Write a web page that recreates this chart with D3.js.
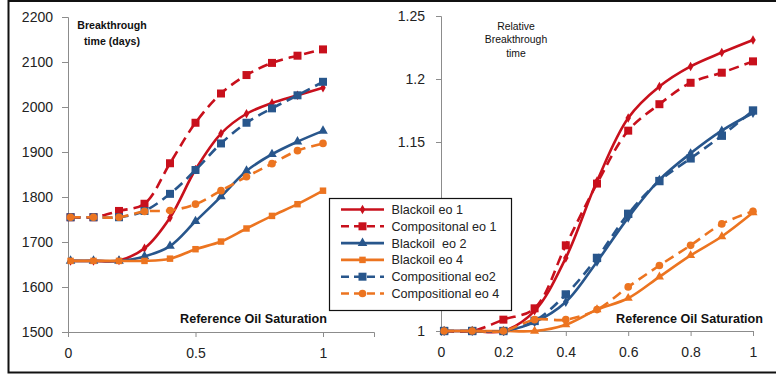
<!DOCTYPE html>
<html>
<head>
<meta charset="utf-8">
<script src="https://cdn.jsdelivr.net/npm/d3@7"></script>
<style>
  html, body { margin: 0; padding: 0; background: #fff; }
  svg { display: block; font-family: "Liberation Sans", Arial, sans-serif; }
  text { white-space: pre; }
</style>
</head>
<body>
<svg id="chart" width="776" height="376"></svg>
<script>
// Reference oil saturation (x values shared by every series)
const saturation = [0.01, 0.1, 0.2, 0.3, 0.4, 0.5, 0.6, 0.7, 0.8, 0.9, 1.0];

// Breakthrough time (days)
const daysBlackoilEo1      = [1658, 1658, 1659, 1686, 1754, 1861, 1941, 1985, 2009, 2026, 2043];
const daysCompositionalEo1 = [1755, 1755, 1769, 1785, 1875, 1965, 2030, 2071, 2098, 2114, 2128];
const daysBlackoilEo2      = [1658, 1658, 1658, 1668, 1691, 1746, 1801, 1858, 1895, 1923, 1947];
const daysBlackoilEo4      = [1658, 1658, 1658, 1658, 1663, 1684, 1701, 1730, 1758, 1784, 1814];
const daysCompositionalEo2 = [1755, 1755, 1755, 1769, 1807, 1860, 1919, 1965, 1997, 2026, 2056];
const daysCompositionalEo4 = [1755, 1755, 1755, 1768, 1770, 1784, 1814, 1845, 1874, 1903, 1919];

// Relative breakthrough time
const relBlackoilEo1      = [1, 1, 1, 1.016, 1.058, 1.119, 1.169, 1.194, 1.210, 1.221, 1.231];
const relCompositionalEo1 = [1, 1, 1.009, 1.018, 1.068, 1.117, 1.159, 1.180, 1.197, 1.205, 1.214];
const relBlackoilEo2      = [1, 1, 1, 1.007, 1.023, 1.055, 1.090, 1.120, 1.141, 1.159, 1.173];
const relBlackoilEo4      = [1, 1, 1, 1, 1.005, 1.017, 1.026, 1.043, 1.060, 1.075, 1.094];
const relCompositionalEo2 = [1, 1, 1, 1.008, 1.029, 1.058, 1.093, 1.119, 1.137, 1.155, 1.175];
const relCompositionalEo4 = [1, 1, 1, 1.009, 1.009, 1.017, 1.035, 1.052, 1.068, 1.085, 1.095];

// Legend names, in series order
const seriesNames = ["Blackoil eo 1", "Compositonal eo 1", "Blackoil  eo 2",
                     "Blackoil eo 4", "Compositional eo2", "Compositional eo 4"];

// Axis ticks
const daysTicks = [1500, 1600, 1700, 1800, 1900, 2000, 2100, 2200];
const leftXTicks = [0, 0.5, 1];
const relTicks = [1, 1.05, 1.1, 1.15, 1.2, 1.25];
const rightXTicks = [0, 0.2, 0.4, 0.6, 0.8, 1];

// Styling per series
const RED = "#c8101c", BLUE = "#28568c", ORANGE = "#ec7420";
const styles = [
  { color: RED,    dash: null,   leftSym: d3.symbolDiamond,  leftSize: 26, rightSym: d3.symbolDiamond,  rightSize: 26 },
  { color: RED,    dash: "10,6", leftSym: d3.symbolSquare,   leftSize: 64, rightSym: d3.symbolSquare,   rightSize: 64 },
  { color: BLUE,   dash: null,   leftSym: d3.symbolTriangle, leftSize: 40, rightSym: d3.symbolDiamond,  rightSize: 30 },
  { color: ORANGE, dash: null,   leftSym: d3.symbolSquare,   leftSize: 42, rightSym: d3.symbolTriangle, rightSize: 36 },
  { color: BLUE,   dash: "10,6", leftSym: d3.symbolSquare,   leftSize: 64, rightSym: d3.symbolSquare,   rightSize: 70 },
  { color: ORANGE, dash: "10,6", leftSym: d3.symbolCircle,   leftSize: 46, rightSym: d3.symbolCircle,   rightSize: 46 }
];

// Legend box geometry (it sits across both panels)
const legendBox = { x: 329.5, y: 198.5, w: 182, h: 112 };

const svg = d3.select("#chart");

function drawPanel(opts) {
  const g = svg.append("g");
  const x = d3.scaleLinear().domain(opts.xDomain).range(opts.xRange);
  const y = d3.scaleLinear().domain(opts.yDomain).range(opts.yRange);

  // y axis
  const yAxis = g.append("g")
    .attr("transform", `translate(${opts.xRange[0]},0)`)
    .call(d3.axisLeft(y).tickValues(opts.yTicks).tickSizeOuter(0)
      .tickSize(opts.yTickSize).tickPadding(opts.yPad).tickFormat(opts.yFormat));
  // x axis
  const xAxis = g.append("g")
    .attr("transform", `translate(0,${opts.yRange[0]})`)
    .call(d3.axisBottom(x).tickValues(opts.xTicks).tickSizeOuter(0)
      .tickSize(5).tickPadding(11).tickFormat(d3.format("~g")));
  [yAxis, xAxis].forEach(a => {
    a.select(".domain").attr("stroke", "#8c8c8c").attr("stroke-width", 1);
    a.selectAll(".tick line").attr("stroke", "#8c8c8c");
    a.selectAll("text").attr("fill", "#222").style("font-size", "14px")
      .style("font-family", "'Liberation Sans', Arial, sans-serif");
  });

  // tick labels that would sit underneath the legend box are not shown
  yAxis.selectAll(".tick text").filter(function () {
    const b = this.getBBox();
    const ctm = this.getCTM();
    const bx = b.x + ctm.e, by = b.y + ctm.f;
    return bx + b.width > legendBox.x && bx < legendBox.x + legendBox.w &&
           by + b.height > legendBox.y && by < legendBox.y + legendBox.h;
  }).remove();

  // series
  const line = d3.line().x((d, i) => x(saturation[i])).y(d => y(d))
    .curve(d3.curveCatmullRom.alpha(0.5));
  opts.series.forEach((vals, k) => {
    const st = styles[k];
    const sg = g.append("g");
    sg.append("path").datum(vals)
      .attr("d", line).attr("fill", "none")
      .attr("stroke", st.color).attr("stroke-width", 2.6)
      .attr("stroke-dasharray", st.dash);
    const sym = d3.symbol().type(opts.side === "left" ? st.leftSym : st.rightSym)
      .size(opts.side === "left" ? st.leftSize : st.rightSize);
    sg.selectAll("path.m").data(vals).join("path").attr("class", "m")
      .attr("d", sym)
      .attr("transform", (d, i) => `translate(${x(saturation[i])},${y(d)})`)
      .attr("fill", st.color);
  });

  // x axis title
  g.append("text")
    .attr("x", opts.xTitleX).attr("y", 322.5)
    .attr("text-anchor", "end")
    .style("font-size", "12.6px").style("font-weight", "bold").attr("fill", "#111")
    .text("Reference Oil Saturation");

  // panel annotation
  const ann = g.append("text").attr("text-anchor", "middle").attr("fill", "#111")
    .style("font-size", opts.annSize).style("font-weight", opts.annWeight);
  opts.annLines.forEach((t, i) => {
    ann.append("tspan").attr("x", opts.annX).attr("y", opts.annY + i * opts.annStep).text(t);
  });
}

// Left panel: breakthrough time in days
drawPanel({
  side: "left",
  xDomain: [0, 1.2], xRange: [68, 374],
  yDomain: [1500, 2200], yRange: [332, 17],
  yTicks: daysTicks, xTicks: leftXTicks,
  yTickSize: 6, yPad: 9, yFormat: d3.format("d"),
  series: [daysBlackoilEo1, daysCompositionalEo1, daysBlackoilEo2,
           daysBlackoilEo4, daysCompositionalEo2, daysCompositionalEo4],
  xTitleX: 327,
  annLines: ["Breakthrough", "time (days)"], annX: 112, annY: 28.5, annStep: 16.5,
  annSize: "10.6px", annWeight: "bold"
});

// Right panel: relative breakthrough time
drawPanel({
  side: "right",
  xDomain: [0, 1], xRange: [441, 753],
  yDomain: [1, 1.25], yRange: [331, 16],
  yTicks: relTicks, xTicks: rightXTicks,
  yTickSize: 5, yPad: 11, yFormat: d3.format("~g"),
  series: [relBlackoilEo1, relCompositionalEo1, relBlackoilEo2,
           relBlackoilEo4, relCompositionalEo2, relCompositionalEo4],
  xTitleX: 763,
  annLines: ["Relative", "Breakthrough", "time"], annX: 516, annY: 30, annStep: 13.3,
  annSize: "10.4px", annWeight: "normal"
});

// Legend box
const legend = svg.append("g");
legend.append("rect")
  .attr("x", legendBox.x).attr("y", legendBox.y)
  .attr("width", legendBox.w).attr("height", legendBox.h)
  .attr("fill", "#fff").attr("stroke", "#111").attr("stroke-width", 1.2);
const legendMarkers = [
  [d3.symbolDiamond, 26], [d3.symbolSquare, 64], [d3.symbolTriangle, 40],
  [d3.symbolSquare, 42], [d3.symbolSquare, 64], [d3.symbolCircle, 46]
];
seriesNames.forEach((name, k) => {
  const st = styles[k];
  const yy = 209.5 + k * 16.8;
  legend.append("line")
    .attr("x1", 341).attr("x2", 384).attr("y1", yy).attr("y2", yy)
    .attr("stroke", st.color).attr("stroke-width", 2.6)
    .attr("stroke-dasharray", st.dash ? "8,5" : null);
  legend.append("path")
    .attr("d", d3.symbol().type(legendMarkers[k][0]).size(legendMarkers[k][1]))
    .attr("transform", `translate(362.5,${yy})`).attr("fill", st.color);
  legend.append("text")
    .attr("x", 391.5).attr("y", yy).attr("dy", "0.36em")
    .style("font-size", "12.6px").attr("fill", "#222")
    .text(name);
});

// Outer frame
svg.append("rect")
  .attr("x", 8.5).attr("y", 1).attr("width", 790).attr("height", 371.5)
  .attr("fill", "none").attr("stroke", "#111").attr("stroke-width", 2);
</script>
</body>
</html>
